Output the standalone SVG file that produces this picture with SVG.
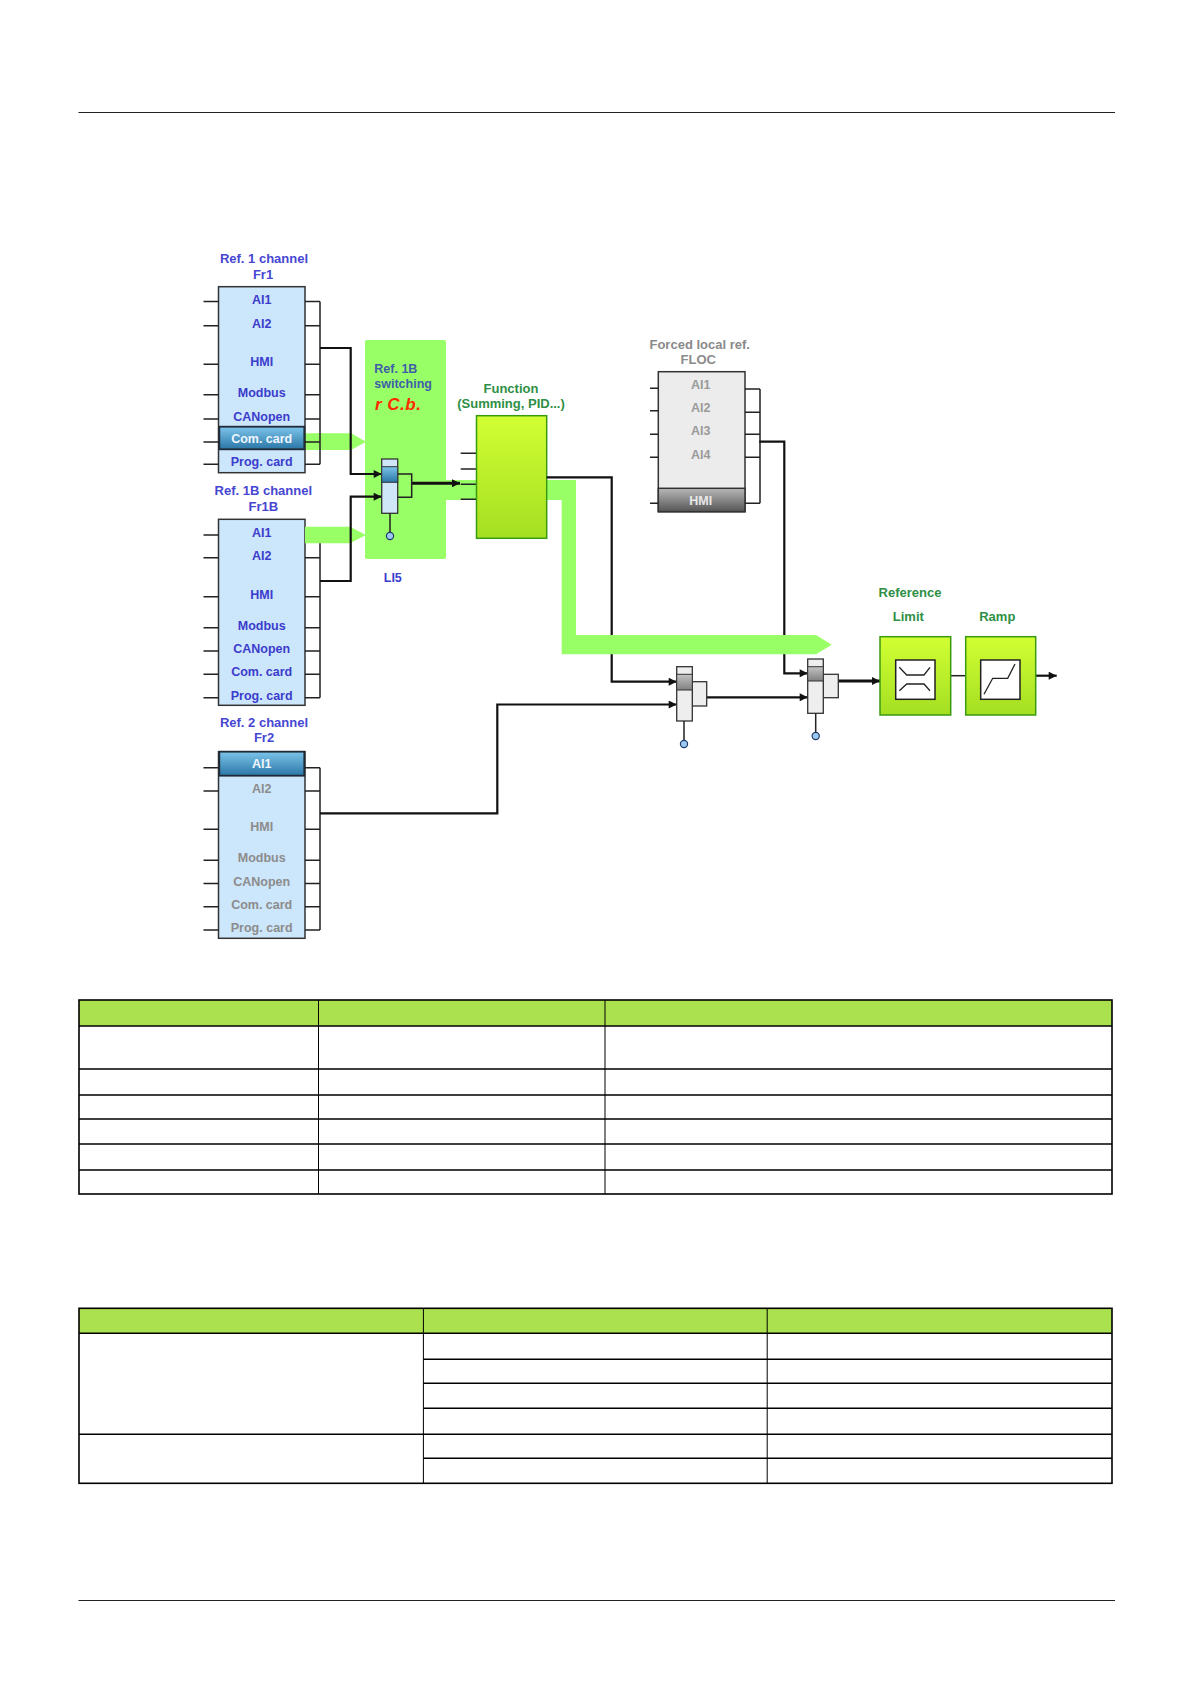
<svg xmlns="http://www.w3.org/2000/svg" width="1190" height="1684" viewBox="0 0 1190 1684">
<defs>
<style>
text{font-family:"Liberation Sans",Arial,sans-serif;font-weight:bold}
.ttl{font-size:13px;fill:#4646d2;text-anchor:middle}
.lbl{font-size:12.5px;fill:#3c3ccc;text-anchor:middle}
.lblg{font-size:12.5px;fill:#8c8c8c;text-anchor:middle}
.sel{font-size:12.5px;fill:#eef6ff;text-anchor:middle}
.grn{font-size:13px;fill:#2e8f45;text-anchor:middle}
.flt{font-size:13px;fill:#8a8a8a;text-anchor:middle}
.fli{font-size:12.5px;fill:#9a9a9a;text-anchor:middle}
.box{fill:#cce6fb;stroke:#333;stroke-width:1.5}
.fbox{fill:#ececec;stroke:#333;stroke-width:1.5}
.stub{stroke:#222;stroke-width:1.5;fill:none}
.wire{stroke:#111;stroke-width:2.2;fill:none}
.thick{stroke:#111;stroke-width:3;fill:none}
.band{fill:#99ff66}
.gblk{fill:url(#gGreen);stroke:#3a9a10;stroke-width:1.5}
.inner{fill:#fff;stroke:#222;stroke-width:1.5}
.sym{fill:none;stroke:#222;stroke-width:1.3}
.swb{fill:#cfe6f8;stroke:#333;stroke-width:1.3}
.swg{fill:#eeeeee;stroke:#333;stroke-width:1.3}
.pin{fill:#9cc8f2;stroke:#1d3c6a;stroke-width:1.2}
.hdr{fill:#abe04f}
.tb{fill:none;stroke:#000;stroke-width:1.6}
.tc{fill:none;stroke:#000;stroke-width:1}
.page{stroke:#222;stroke-width:1}
</style>
<linearGradient id="gSel" x1="0" y1="0" x2="0" y2="1"><stop offset="0" stop-color="#7cc4ea"/><stop offset="1" stop-color="#2a76a6"/></linearGradient>
<linearGradient id="gGreen" x1="0" y1="0" x2="0" y2="1"><stop offset="0" stop-color="#d2ff33"/><stop offset="1" stop-color="#a4df22"/></linearGradient>
<linearGradient id="gHmi" x1="0" y1="0" x2="0" y2="1"><stop offset="0" stop-color="#b8b8b8"/><stop offset="1" stop-color="#555"/></linearGradient>
<linearGradient id="gGray" x1="0" y1="0" x2="0" y2="1"><stop offset="0" stop-color="#c4c4c4"/><stop offset="1" stop-color="#808080"/></linearGradient>
<marker id="arr" viewBox="0 0 10 10" refX="10" refY="5" markerWidth="9" markerHeight="8" markerUnits="userSpaceOnUse" orient="auto"><path d="M0,0L10,5L0,10z" fill="#111"/></marker>
</defs>
<rect width="1190" height="1684" fill="#fff"/>
<line class="page" x1="78.5" y1="112.5" x2="1115" y2="112.5"/>
<line class="page" x1="78.5" y1="1600.5" x2="1115" y2="1600.5"/>

<!-- switching panel and band behind -->
<g id="panel">
<rect x="365" y="340" width="81" height="219" rx="2" class="band"/>
<path class="band" d="M440,480H576V635H561.7V500H440z"/>
<path class="band" d="M305,433.3H351L366,441.7L351,450H305z"/>
</g>

<g id="fr1">
<text class="ttl" x="264" y="263.3">Ref. 1 channel</text>
<text class="ttl" x="263" y="278.7">Fr1</text>
<rect class="box" x="218.5" y="286.7" width="86.5" height="186"/>
<rect x="219.3" y="426.7" width="85" height="22.6" fill="url(#gSel)" stroke="#1f2a36" stroke-width="1.8"/>
<path class="stub" d="M203.5,301.5h15M203.5,325.7h15M203.5,364.3h15M203.5,394.7h15M203.5,419h15M203.5,442h15M203.5,464.3h15M305,301.5h15M305,325.7h15M305,364.3h15M305,394.7h15M305,419h15M305,442h15M305,464.3h15M320,301.5V464.3"/>
<text class="lbl" x="261.7" y="303.5">AI1</text>
<text class="lbl" x="261.7" y="327.7">AI2</text>
<text class="lbl" x="261.7" y="366.3">HMI</text>
<text class="lbl" x="261.7" y="396.7">Modbus</text>
<text class="lbl" x="261.7" y="421">CANopen</text>
<text class="sel" x="261.7" y="442.5">Com. card</text>
<text class="lbl" x="261.7" y="466.3">Prog. card</text>
</g>

<g id="fr1b">
<text class="ttl" x="263.3" y="495">Ref. 1B channel</text>
<text class="ttl" x="263.3" y="510.7">Fr1B</text>
<rect class="box" x="218.5" y="519.3" width="86.5" height="186"/>
<path class="stub" d="M203.5,535h15M203.5,557.7h15M203.5,596.7h15M203.5,627.7h15M203.5,651h15M203.5,674.3h15M203.5,697.7h15M305,557.7h15M305,596.7h15M305,627.7h15M305,651h15M305,674.3h15M305,697.7h15M320,543V697.7"/>
<path class="band" d="M305,526.7H350L366,535L350,543.3H305z"/>
<text class="lbl" x="261.7" y="537">AI1</text>
<text class="lbl" x="261.7" y="559.7">AI2</text>
<text class="lbl" x="261.7" y="598.7">HMI</text>
<text class="lbl" x="261.7" y="629.7">Modbus</text>
<text class="lbl" x="261.7" y="653">CANopen</text>
<text class="lbl" x="261.7" y="676.3">Com. card</text>
<text class="lbl" x="261.7" y="699.7">Prog. card</text>
</g>

<g id="fr2">
<text class="ttl" x="264" y="726.7">Ref. 2 channel</text>
<text class="ttl" x="264" y="742.3">Fr2</text>
<rect class="box" x="218.5" y="751.7" width="86.5" height="186.6"/>
<rect x="219.3" y="751.7" width="85" height="24" fill="url(#gSel)" stroke="#1f2a36" stroke-width="1.8"/>
<path class="stub" d="M203.5,767.7h15M203.5,791h15M203.5,829.3h15M203.5,860.3h15M203.5,883.5h15M203.5,906.7h15M203.5,930h15M305,767.7h15M305,791h15M305,829.3h15M305,860.3h15M305,883.5h15M305,906.7h15M305,930h15M320,767.7V930"/>
<text class="sel" x="261.7" y="768.3">AI1</text>
<text class="lblg" x="261.7" y="793">AI2</text>
<text class="lblg" x="261.7" y="831.3">HMI</text>
<text class="lblg" x="261.7" y="862.3">Modbus</text>
<text class="lblg" x="261.7" y="885.5">CANopen</text>
<text class="lblg" x="261.7" y="908.7">Com. card</text>
<text class="lblg" x="261.7" y="932">Prog. card</text>
</g>

<g id="switching">
<text x="374.3" y="372.7" font-size="12.5" fill="#3f5ea8">Ref. 1B</text>
<text x="374.3" y="388.3" font-size="12.5" fill="#3f5ea8">switching</text>
<text x="375" y="409.8" font-size="17" font-style="italic" fill="#ff2a00" letter-spacing="0.5">r C.b.</text>
<text class="lbl" x="392.8" y="581.7">LI5</text>
</g>

<g id="function">
<text class="grn" x="511" y="392.7">Function</text>
<text class="grn" x="511" y="408.3">(Summing, PID...)</text>
<path class="stub" d="M460.7,453.3H476.5M460.7,469H476.5M460.7,484.3H476.5M460.7,499.3H476.5"/>
<rect class="gblk" x="476.5" y="415.7" width="70.2" height="122.6"/>
</g>

<g id="floc">
<text class="flt" x="699.7" y="349.3">Forced local ref.</text>
<text class="flt" x="698.3" y="364.3">FLOC</text>
<rect class="fbox" x="658.3" y="371.7" width="86.7" height="140"/>
<rect x="658.3" y="488.3" width="86.7" height="23.4" fill="url(#gHmi)" stroke="#333" stroke-width="1.5"/>
<path class="stub" d="M650,388.3h8.3M650,410.7h8.3M650,434.3h8.3M650,457.3h8.3M650,503.3h8.3M745,389h15M745,412.3h15M745,434.3h15M745,457.3h15M745,503.3h15M760,389V503.3"/>
<text class="fli" x="700.7" y="388.8">AI1</text>
<text class="fli" x="700.7" y="411.8">AI2</text>
<text class="fli" x="700.7" y="435.2">AI3</text>
<text class="fli" x="700.7" y="458.5">AI4</text>
<text x="700.7" y="504.5" font-size="12.5" fill="#e8e8e8" text-anchor="middle">HMI</text>
</g>

<g id="connectors">
<path class="wire" d="M320,348H350.7V474H381.7" marker-end="url(#arr)"/>
<path class="wire" d="M320,581H350.7V496.7H381.7" marker-end="url(#arr)"/>
<path class="thick" d="M411.7,483.3H460" marker-end="url(#arr)"/>
<path class="wire" d="M546.7,477.3H611.7V681.7H676.7" marker-end="url(#arr)"/>
<path class="wire" d="M320,813.3H497.3V704.5H676.7" marker-end="url(#arr)"/>
<path class="wire" d="M759.3,441.7H784.3V673.3H807.7" marker-end="url(#arr)"/>
<path class="wire" d="M706.7,697.3H807.7" marker-end="url(#arr)"/>
<path class="thick" d="M838.3,681H880" marker-end="url(#arr)"/>
<path class="stub" d="M950.7,675.7H965.7"/>
<path class="wire" d="M1035.7,675.7H1056.7" marker-end="url(#arr)"/>
</g>

<g id="band">
<path class="band" d="M561.7,635H816L831.7,644.7L816,654.3H561.7z"/>
</g>

<g id="switch1">
<rect class="swb" x="381.7" y="459" width="16" height="54.3"/>
<rect x="381.7" y="466.7" width="16" height="15.6" fill="url(#gSel)" stroke="#333" stroke-width="1"/>
<path class="stub" d="M397.7,474H411.7V497.3H397.7M390,513.3V532.4"/>
<circle class="pin" cx="390" cy="536" r="3.6"/>
</g>

<g id="switch2">
<rect class="swg" x="692.3" y="681.7" width="14.4" height="24.3"/>
<rect class="swg" x="676.7" y="666.7" width="15.6" height="54.3"/>
<rect x="676.7" y="674.3" width="15.6" height="15.7" fill="url(#gGray)" stroke="#333" stroke-width="1"/>
<path class="stub" d="M684,721V740.4"/>
<circle class="pin" cx="684" cy="744" r="3.6"/>
</g>

<g id="switch3">
<rect class="swg" x="823.3" y="674.3" width="15" height="23.4"/>
<rect class="swg" x="807.7" y="659" width="15.6" height="54.3"/>
<rect x="807.7" y="666.7" width="15.6" height="14.3" fill="url(#gGray)" stroke="#333" stroke-width="1"/>
<path class="stub" d="M815.7,713.3V732.4"/>
<circle class="pin" cx="815.7" cy="736" r="3.6"/>
</g>

<g id="limit">
<text class="grn" x="910" y="597.3">Reference</text>
<text class="grn" x="908.3" y="620.7">Limit</text>
<rect class="gblk" x="880" y="636.7" width="70.7" height="78.3"/>
<rect class="inner" x="895.7" y="660" width="39.3" height="39.3"/>
<path class="sym" d="M899.3,667.3L906.7,675H924L930,667.3M899.3,690.7L906.7,684H924L930,690.7"/>
</g>

<g id="ramp">
<text class="grn" x="997.3" y="620.7">Ramp</text>
<rect class="gblk" x="965.7" y="636.7" width="70" height="78.3"/>
<rect class="inner" x="980.7" y="660" width="39.3" height="39.3"/>
<path class="sym" d="M984,694.3L992.7,678.3H1007.7L1015,664"/>
</g>

<g id="table1">
<rect class="hdr" x="79" y="1000" width="1033" height="26"/>
<rect class="tb" x="79" y="1000" width="1033" height="194"/>
<path class="tb" d="M79,1026H1112M79,1069H1112M79,1095H1112M79,1119H1112M79,1144H1112M79,1170H1112"/>
<path class="tc" d="M318.5,1000V1194M605,1000V1194"/>
</g>

<g id="table2">
<rect class="hdr" x="79" y="1308.3" width="1033" height="25"/>
<rect class="tb" x="79" y="1308.3" width="1033" height="175"/>
<path class="tb" d="M79,1333.3H1112M423.4,1359.3H1112M423.4,1383.3H1112M423.4,1408.3H1112M79,1434.3H1112M423.4,1458.3H1112"/>
<path class="tc" d="M423.4,1308.3V1483.3M767.2,1308.3V1483.3"/>
</g>
</svg>
